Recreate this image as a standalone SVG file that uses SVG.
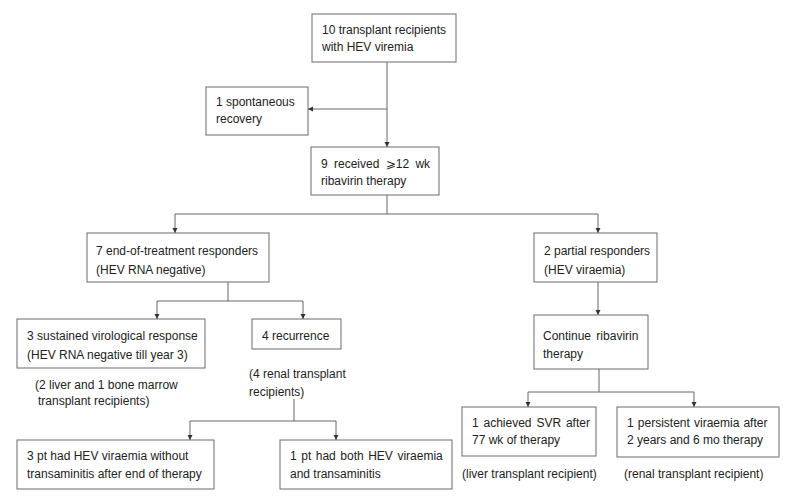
<svg xmlns="http://www.w3.org/2000/svg" width="787" height="504" viewBox="0 0 787 504">
<style>
rect.box{fill:#fff;stroke:#6b6b6b;stroke-width:1}
text{font-family:"Liberation Sans","DejaVu Sans",Arial,sans-serif;font-size:12px;fill:#222}
.conn path{fill:none;stroke:#666;stroke-width:1}
</style>
<defs>
<marker id="ah" markerUnits="userSpaceOnUse" markerWidth="6" markerHeight="6" refX="5" refY="3" orient="auto">
<path d="M0,0.5 L5,3 L0,5.5 z" fill="#333"/>
</marker>
</defs>
<rect width="787" height="504" fill="#fff"/>
<g class="conn">
<path d="M387,62 V147" marker-end="url(#ah)"/>
<path d="M387,109 H308" marker-end="url(#ah)"/>
<path d="M387,195 V214"/>
<path d="M175,214 H598"/>
<path d="M175,214 V233" marker-end="url(#ah)"/>
<path d="M598,214 V233" marker-end="url(#ah)"/>
<path d="M228,282 V301"/>
<path d="M157,301 H303"/>
<path d="M157,301 V319" marker-end="url(#ah)"/>
<path d="M303,301 V319" marker-end="url(#ah)"/>
<path d="M598,282 V315" marker-end="url(#ah)"/>
<path d="M294,399 V421"/>
<path d="M190,421 H336"/>
<path d="M190,421 V440" marker-end="url(#ah)"/>
<path d="M336,421 V440" marker-end="url(#ah)"/>
<path d="M599,369 V392"/>
<path d="M528,392 H694"/>
<path d="M528,392 V407" marker-end="url(#ah)"/>
<path d="M694,392 V407" marker-end="url(#ah)"/>
</g>
<g id="n1"><rect class="box" x="312" y="14" width="144" height="48"/>
<text x="322" y="34">10 transplant recipients</text><text x="322" y="51">with HEV viremia</text></g>
<g id="n2"><rect class="box" x="206" y="87" width="102" height="48"/>
<text x="216" y="106">1 spontaneous</text><text x="216" y="123">recovery</text></g>
<g id="n3"><rect class="box" x="311" y="147" width="128" height="48"/>
<text x="321" y="168" word-spacing="3">9 received ⩾12 wk</text><text x="321" y="185">ribavirin therapy</text></g>
<g id="n4"><rect class="box" x="87" y="233" width="182" height="49"/>
<text x="96" y="255">7 end-of-treatment responders</text><text x="96" y="274">(HEV RNA negative)</text></g>
<g id="n5"><rect class="box" x="534" y="233" width="123" height="49"/>
<text x="544" y="255">2 partial responders</text><text x="544" y="274">(HEV viraemia)</text></g>
<g id="n6"><rect class="box" x="17" y="319" width="188" height="49"/>
<text x="27" y="340">3 sustained virological response</text><text x="27" y="359">(HEV RNA negative till year 3)</text></g>
<g id="n6note"><text x="35" y="389">(2 liver and 1 bone marrow</text><text x="38" y="405">transplant recipients)</text></g>
<g id="n7"><rect class="box" x="252" y="319" width="89" height="30"/>
<text x="262" y="340">4 recurrence</text></g>
<g id="n7note"><text x="249" y="378">(4 renal transplant</text><text x="249" y="396">recipients)</text></g>
<g id="n8"><rect class="box" x="17" y="440" width="197" height="49"/>
<text x="27" y="460">3 pt had HEV viraemia without</text><text x="27" y="478">transaminitis after end of therapy</text></g>
<g id="n9"><rect class="box" x="280" y="440" width="172" height="49"/>
<text x="290" y="460" word-spacing="1.2">1 pt had both HEV viraemia</text><text x="290" y="478">and transaminitis</text></g>
<g id="n10"><rect class="box" x="534" y="315" width="114" height="54"/>
<text x="543" y="340" word-spacing="2">Continue ribavirin</text><text x="543" y="358">therapy</text></g>
<g id="n11"><rect class="box" x="462" y="407" width="134" height="49"/>
<text x="472" y="427" word-spacing="1.5">1 achieved SVR after</text><text x="472" y="444">77 wk of therapy</text></g>
<g id="n11note"><text x="462" y="478">(liver transplant recipient)</text></g>
<g id="n12"><rect class="box" x="617" y="407" width="162" height="50"/>
<text x="627" y="427" word-spacing="0.8">1 persistent viraemia after</text><text x="627" y="444">2 years and 6 mo therapy</text></g>
<g id="n12note"><text x="624" y="478">(renal transplant recipient)</text></g>
</svg>
